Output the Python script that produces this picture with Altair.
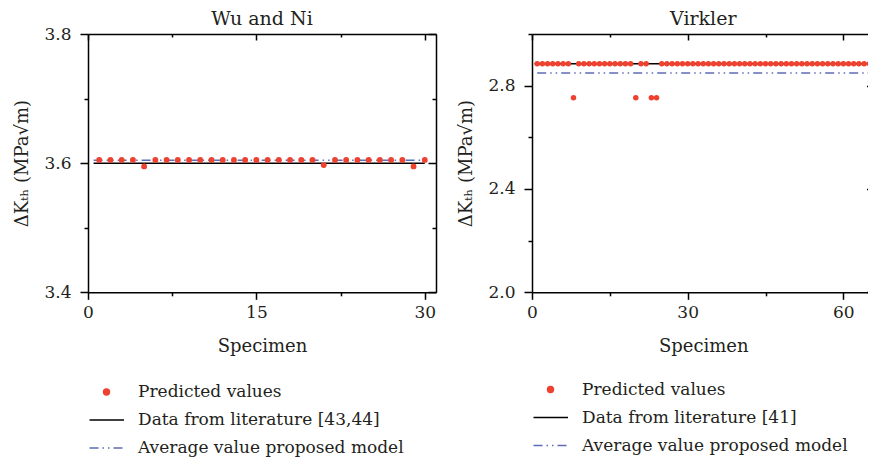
import altair as alt
import pandas as pd

FONT = "DejaVu Serif"
TXT = "#231f20"
RED = "#ee4130"
BLUE = "#5e6cb8"
DASHDOT = [9, 4, 1.5, 4, 1.5, 4]

# ---------------- data ----------------
wu_spec = list(range(1, 31))
wu_pred = [3.605, 3.605, 3.605, 3.605, 3.595, 3.605, 3.605, 3.605, 3.605, 3.605,
           3.605, 3.605, 3.605, 3.605, 3.605, 3.605, 3.605, 3.605, 3.605, 3.605,
           3.597, 3.605, 3.605, 3.605, 3.605, 3.605, 3.605, 3.605, 3.595, 3.605]
wu_lit_x = [0.5, 30]
wu_lit_y = [3.600, 3.600]
wu_avg_x = [0.5, 30.3]
wu_avg_y = [3.6045, 3.6045]

vk_spec = list(range(1, 69))
vk_pred = [2.885, 2.885, 2.885, 2.885, 2.885, 2.885, 2.885, 2.753, 2.885, 2.885,
           2.885, 2.885, 2.885, 2.885, 2.885, 2.885, 2.885, 2.885, 2.885, 2.753,
           2.885, 2.885, 2.753, 2.753, 2.885, 2.885, 2.885, 2.885, 2.885, 2.885,
           2.885, 2.885, 2.885, 2.885, 2.885, 2.885, 2.885, 2.885, 2.885, 2.885,
           2.885, 2.885, 2.885, 2.885, 2.885, 2.885, 2.885, 2.885, 2.885, 2.885,
           2.885, 2.885, 2.885, 2.885, 2.885, 2.885, 2.885, 2.885, 2.885, 2.885,
           2.885, 2.885, 2.885, 2.885, 2.885, 2.885, 2.885, 2.885]
vk_lit_x = [0.5, 66]
vk_lit_y = [2.885, 2.885]
vk_avg_x = [1, 66]
vk_avg_y = [2.849, 2.849]

legend_rows = [0, 1, 2]
legend_kinds = ["pt", "line", "dash"]
wu_legend = ["Predicted values", "Data from literature [43,44]", "Average value proposed model"]
vk_legend = ["Predicted values", "Data from literature [41]", "Average value proposed model"]

Y_TITLE = "ΔKₜₕ (MPa√m)"


def panel(spec, pred, lit_x, lit_y, avg_x, avg_y, title, xdom, xvals, xmaj,
          ydom, yvals, ymaj_expr, W, H, right_border, psize, xtitle_pad):
    pts = pd.DataFrame({"spec": spec, "val": pred})
    lit = pd.DataFrame({"spec": lit_x, "val": lit_y})
    avg = pd.DataFrame({"spec": avg_x, "val": avg_y})
    xs = alt.Scale(domain=xdom, nice=False, zero=False)
    ys = alt.Scale(domain=ydom, nice=False, zero=False)
    xmaj_test = f"datum.value % {xmaj} === 0"

    x_bottom = alt.Axis(orient="bottom", values=xvals, title="Specimen",
                        labelExpr=f"{xmaj_test} ? datum.label : ''",
                        tickSize={"condition": {"test": xmaj_test, "value": 7}, "value": 3.5},
                        labelOverlap=False, labelFlush=False, labelPadding=5,
                        titlePadding=xtitle_pad, domain=True)
    y_left = alt.Axis(orient="left", values=yvals, title=Y_TITLE,
                      labelExpr=f"{ymaj_expr} ? format(datum.value, '.1f') : ''",
                      tickSize={"condition": {"test": ymaj_expr, "value": 8}, "value": 4},
                      labelOverlap=False, labelFlush=False, labelPadding=9,
                      titlePadding=12, domain=True)
    x_top = alt.Axis(orient="bottom", offset=-H, values=xvals, title=None, labels=False,
                     tickSize={"condition": {"test": xmaj_test, "value": 6}, "value": 3},
                     domain=True)
    y_right = alt.Axis(orient="left", offset=-W, values=yvals, title=None, labels=False,
                       tickSize={"condition": {"test": ymaj_expr, "value": 8}, "value": 4},
                       domain=right_border)

    avg_layer = alt.Chart(avg).mark_line(color=BLUE, strokeWidth=1.5, strokeDash=DASHDOT,
                                         clip=True).encode(
        x=alt.X("spec:Q", scale=xs, axis=x_bottom),
        y=alt.Y("val:Q", scale=ys, axis=y_left))
    lit_layer = alt.Chart(lit).mark_line(color="black", strokeWidth=1.5, clip=True).encode(
        x=alt.X("spec:Q", scale=xs, axis=x_top),
        y=alt.Y("val:Q", scale=ys, axis=y_right))
    pt_layer = alt.Chart(pts).transform_filter(
        f"datum.spec <= {xdom[1]}"
    ).mark_circle(color=RED, opacity=1, size=psize, clip=True).encode(
        x=alt.X("spec:Q", scale=xs, axis=None),
        y=alt.Y("val:Q", scale=ys, axis=None))
    return alt.layer(avg_layer, lit_layer, pt_layer).resolve_axis(
        x="independent", y="independent").properties(width=W, height=H, title=title)


def legend(labels, W):
    df = pd.DataFrame({"row": legend_rows, "label": labels, "kind": legend_kinds})
    yenc = alt.Y("row:O", axis=None, scale=alt.Scale(paddingInner=0, paddingOuter=0))
    base = alt.Chart(df).encode(y=yenc)
    text = base.mark_text(align="left", baseline="middle", font=FONT, fontSize=17,
                          color=TXT).encode(x=alt.value(50), text="label:N")
    dot = base.transform_filter("datum.kind === 'pt'").mark_circle(
        color=RED, opacity=1, size=55).encode(x=alt.value(18.5))
    line = base.transform_filter("datum.kind === 'line'").mark_rule(
        color="black", strokeWidth=1.5).encode(x=alt.value(1.5), x2=alt.value(36))
    dash = base.transform_filter("datum.kind === 'dash'").mark_rule(
        color=BLUE, strokeWidth=1.5, strokeDash=DASHDOT).encode(x=alt.value(1.5), x2=alt.value(36))
    return alt.layer(text, dot, line, dash).properties(width=W, height=84)


H = 258.3
left = panel(wu_spec, wu_pred, wu_lit_x, wu_lit_y, wu_avg_x, wu_avg_y, "Wu and Ni",
             [0, 31], [0, 7.5, 15, 22.5, 30], 15,
             [3.4, 3.8], [3.4, 3.5, 3.6, 3.7, 3.8], "round(datum.value*10) % 2 === 0",
             348, H, True, 34, 17)
right = panel(vk_spec, vk_pred, vk_lit_x, vk_lit_y, vk_avg_x, vk_avg_y, "Virkler",
              [0, 66], [0, 15, 30, 45, 60], 30,
              [2.0, 3.0], [2.0, 2.2, 2.4, 2.6, 2.8, 3.0], "round(datum.value*10) % 4 === 0",
              342.5, H, False, 30, 17)

chart = alt.hconcat(
    alt.vconcat(left, legend(wu_legend, 348), spacing=22),
    alt.vconcat(right, legend(vk_legend, 342.5), spacing=19.5),
    spacing=20,
).properties(
    padding={"left": 5, "top": 2, "right": -8, "bottom": -5}
).configure_view(stroke=None).configure_axis(
    labelFont=FONT, titleFont=FONT, labelFontSize=17, titleFontSize=18,
    labelColor=TXT, titleColor=TXT, titleFontWeight="normal", grid=False,
    domainColor="black", domainWidth=1.5, tickColor="black", tickWidth=1.5,
).configure_title(
    font=FONT, fontSize=19, fontWeight="normal", color=TXT, offset=-4,
)

chart.save("out.html", embed_options={"renderer": "svg", "actions": False})
